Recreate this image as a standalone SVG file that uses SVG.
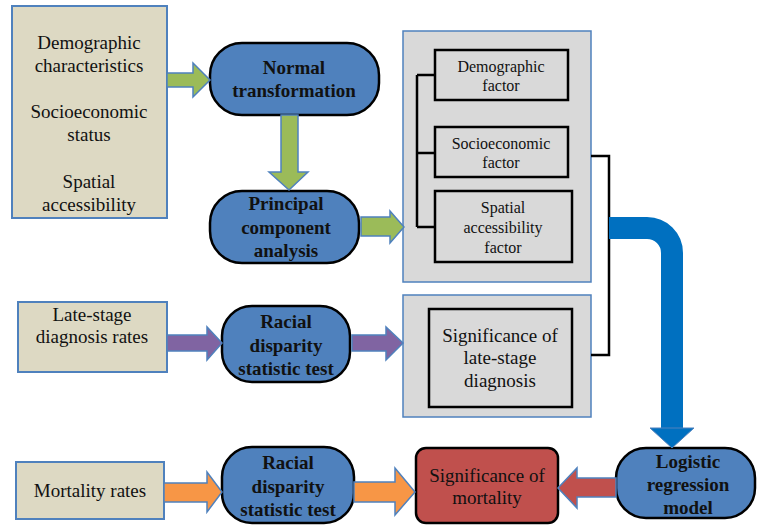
<svg xmlns="http://www.w3.org/2000/svg" width="757" height="526" viewBox="0 0 757 526">
<g fill="#111" text-anchor="middle" font-family="Liberation Serif" font-size="19" style="font-family:'Liberation Serif',serif">
<g id="inputs-spatial">
<rect fill="#ddd9c3" stroke="#4f81bd" stroke-width="2" x="12" y="6" width="155" height="212"/>
<text x="89" y="49" style="font-family:'Liberation Serif',serif">Demographic</text>
<text x="89" y="72" style="font-family:'Liberation Serif',serif">characteristics</text>
<text x="89" y="118" style="font-family:'Liberation Serif',serif">Socioeconomic</text>
<text x="89" y="141" style="font-family:'Liberation Serif',serif">status</text>
<text x="89" y="188" style="font-family:'Liberation Serif',serif">Spatial</text>
<text x="89" y="211" style="font-family:'Liberation Serif',serif">accessibility</text>
</g>
<g id="normal-transformation" font-weight="bold">
<rect fill="#4f81bd" stroke="#000" stroke-width="2.5" x="210" y="43" width="169" height="72" rx="32"/>
<text x="294" y="74" style="font-family:'Liberation Serif',serif">Normal</text>
<text x="294" y="97" style="font-family:'Liberation Serif',serif">transformation</text>
</g>
<g id="pca" font-weight="bold">
<rect fill="#4f81bd" stroke="#000" stroke-width="2.5" x="210" y="191" width="149" height="72" rx="32"/>
<text x="286" y="210" style="font-family:'Liberation Serif',serif">Principal</text>
<text x="286" y="234" style="font-family:'Liberation Serif',serif">component</text>
<text x="286" y="257" style="font-family:'Liberation Serif',serif">analysis</text>
</g>
<g id="factors" font-size="16">
<rect fill="#d9d9d9" stroke="#4f81bd" stroke-width="1.5" x="403" y="31" width="188" height="251"/>
<g id="demographic-factor">
<rect fill="#d9d9d9" stroke="#000" stroke-width="2.5" x="435" y="50" width="133" height="50"/>
<text x="501" y="72" style="font-family:'Liberation Serif',serif">Demographic</text>
<text x="501" y="91" style="font-family:'Liberation Serif',serif">factor</text>
</g>
<g id="socioeconomic-factor">
<rect fill="#d9d9d9" stroke="#000" stroke-width="2.5" x="435" y="127" width="133" height="50"/>
<text x="501" y="149" style="font-family:'Liberation Serif',serif">Socioeconomic</text>
<text x="501" y="168" style="font-family:'Liberation Serif',serif">factor</text>
</g>
<g id="spatial-factor">
<rect fill="#d9d9d9" stroke="#000" stroke-width="2.5" x="435" y="191" width="137" height="71"/>
<text x="503" y="213" style="font-family:'Liberation Serif',serif">Spatial</text>
<text x="503" y="233" style="font-family:'Liberation Serif',serif">accessibility</text>
<text x="503" y="253" style="font-family:'Liberation Serif',serif">factor</text>
</g>
</g>
<g id="late-stage-rates">
<rect fill="#ddd9c3" stroke="#4f81bd" stroke-width="2" x="18" y="302" width="149" height="70"/>
<text x="92" y="321" style="font-family:'Liberation Serif',serif">Late-stage</text>
<text x="92" y="343" style="font-family:'Liberation Serif',serif">diagnosis rates</text>
</g>
<g id="racial-test-1" font-weight="bold">
<rect fill="#4f81bd" stroke="#000" stroke-width="2.5" x="222" y="306" width="128" height="76" rx="30"/>
<text x="286" y="328" style="font-family:'Liberation Serif',serif">Racial</text>
<text x="286" y="352" style="font-family:'Liberation Serif',serif">disparity</text>
<text x="286" y="375" style="font-family:'Liberation Serif',serif">statistic test</text>
</g>
<g id="late-stage-significance">
<rect fill="#d9d9d9" stroke="#4f81bd" stroke-width="1.5" x="403" y="295" width="188" height="122"/>
<rect fill="#d9d9d9" stroke="#000" stroke-width="2.5" x="429" y="309" width="143" height="98"/>
<text x="500" y="342" style="font-family:'Liberation Serif',serif">Significance of</text>
<text x="500" y="364" style="font-family:'Liberation Serif',serif">late-stage</text>
<text x="500" y="387" style="font-family:'Liberation Serif',serif">diagnosis</text>
</g>
<g id="mortality-rates">
<rect fill="#ddd9c3" stroke="#4f81bd" stroke-width="2" x="16" y="462" width="148" height="57"/>
<text x="90" y="497" style="font-family:'Liberation Serif',serif">Mortality rates</text>
</g>
<g id="racial-test-2" font-weight="bold">
<rect fill="#4f81bd" stroke="#000" stroke-width="2.5" x="222" y="447" width="132" height="76" rx="30"/>
<text x="288" y="469" style="font-family:'Liberation Serif',serif">Racial</text>
<text x="288" y="493" style="font-family:'Liberation Serif',serif">disparity</text>
<text x="288" y="516" style="font-family:'Liberation Serif',serif">statistic test</text>
</g>
<g id="mortality-significance">
<rect fill="#c0504d" stroke="#000" stroke-width="2.5" x="416" y="448" width="142" height="75" rx="10"/>
<text x="487" y="482" style="font-family:'Liberation Serif',serif">Significance of</text>
<text x="487" y="504" style="font-family:'Liberation Serif',serif">mortality</text>
</g>
<g id="logistic-regression" font-weight="bold">
<rect fill="#4f81bd" stroke="#000" stroke-width="2.5" x="616" y="448" width="139" height="70" rx="30"/>
<text x="688" y="468" style="font-family:'Liberation Serif',serif">Logistic</text>
<text x="688" y="491" style="font-family:'Liberation Serif',serif">regression</text>
<text x="688" y="514" style="font-family:'Liberation Serif',serif">model</text>
</g>
</g>
<g id="connectors">
<g stroke="#4f81bd" stroke-width="1.5">
<polygon fill="#9bbb59" points="167,73 193,73 193,63 210,80 193,97 193,87 167,87"/>
<polygon fill="#9bbb59" points="281,115 298,115 298,172 308,172 289,190 269,172 281,172"/>
<polygon fill="#9bbb59" points="361,217 390,217 390,211 404,227 390,243 390,236 361,236"/>
<polygon fill="#8064a2" points="167,335 207,335 207,327 222,343 207,360 207,351 167,351"/>
<polygon fill="#8064a2" points="352,335 386,335 386,327 403,343 386,360 386,351 352,351"/>
<polygon fill="#f79646" points="164,483 207,483 207,472 222,492 207,512 207,502 164,502"/>
<polygon fill="#f79646" points="354,482 395,482 395,468 415,492 395,515 395,502 354,502"/>
<polygon fill="#c0504d" points="616,478 577,478 577,468 558,488 577,508 577,497 616,497"/>
</g>
<g fill="none" stroke="#000" stroke-width="2.5">
<path d="M417,75 H435 M417,153 H435 M417,227 H435 M417,75 V227"/>
<path d="M591,156 H609 V355 H591"/>
</g>
<path d="M609,228 H647 A25,25 0 0 1 672,253 V430" fill="none" stroke="#0070c0" stroke-width="22"/>
<polygon fill="#0070c0" stroke="#4f81bd" stroke-width="1" points="650,428 694,428 672,448"/>
</g>
</svg>
